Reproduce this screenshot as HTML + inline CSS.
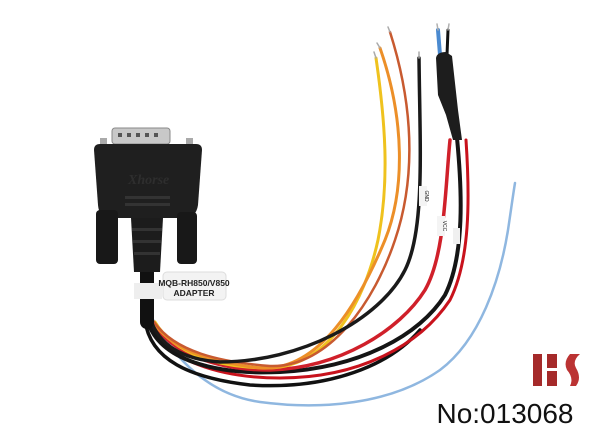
<!DOCTYPE html>
<html><head><style>
html,body{margin:0;padding:0;background:#fff;}
</style></head><body>
<svg width="600" height="440" viewBox="0 0 600 440" xmlns="http://www.w3.org/2000/svg">
<rect width="600" height="440" fill="#fff"/>
<g fill="none" stroke-linecap="round">
<path d="M152 318 C175 360 210 395 260 402 C320 410 390 405 440 370 C480 340 500 280 508 230 C511 210 513 195 515 183" stroke="#8fb7e0" stroke-width="2.5"/>
<path d="M145 320 C150 360 190 378 250 385 C330 390 390 365 420 330" stroke="#111" stroke-width="3.5"/>
<path d="M150 325 C165 360 220 378 280 378 C360 378 420 345 450 300 C470 260 470 200 466 140" stroke="#c8121c" stroke-width="3"/>
<path d="M148 322 C160 360 215 375 280 372 C360 368 420 335 445 295 C465 255 462 190 457 138" stroke="#151515" stroke-width="4"/>
<path d="M152 320 C170 355 220 370 270 370 C340 368 400 330 425 290 C445 255 445 190 450 140" stroke="#d0202a" stroke-width="3.5"/>
<path d="M155 322 C175 355 220 368 270 368 C330 366 365 300 378 240 C390 180 385 120 376 58" stroke="#efc21e" stroke-width="3"/>
<path d="M152 320 C170 350 210 362 260 368 C320 372 360 300 385 240 C405 190 405 120 380 48" stroke="#ec8f28" stroke-width="3"/>
<path d="M154 322 C175 352 220 362 270 366 C330 368 375 300 395 240 C412 190 418 120 390 32" stroke="#c85a30" stroke-width="2.5"/>
<path d="M150 318 C160 350 190 360 220 362 C300 362 380 320 405 270 C425 230 420 150 419 58" stroke="#1a1a1a" stroke-width="3.5"/>
<path d="M440 55 L438 30" stroke="#4a8ad0" stroke-width="4"/>
<path d="M447 55 L448 30" stroke="#111" stroke-width="3"/>
<path d="M438 30 L437 24" stroke="#b0b0b0" stroke-width="1.5"/>
<path d="M448 30 L449 24" stroke="#b0b0b0" stroke-width="1.5"/>
<path d="M376 58 L374 52" stroke="#aaa" stroke-width="1.5"/>
<path d="M380 48 L377 43" stroke="#aaa" stroke-width="1.5"/>
<path d="M390 32 L388 27" stroke="#aaa" stroke-width="1.5"/>
<path d="M419 58 L419 52" stroke="#aaa" stroke-width="1.5"/>
<path d="M147 268 L147 322" stroke="#111" stroke-width="14"/>
</g>
<path d="M436 58 Q437 52 446 52 L452 56 L458 110 L462 140 L453 140 L446 115 L438 95 Z" fill="#1d1d1d"/>
<rect x="419" y="186" width="8" height="20" fill="#f4f4f4"/>
<text transform="translate(425,196) rotate(90)" text-anchor="middle" font-family="Liberation Sans, sans-serif" font-size="5" fill="#222">GND</text>
<rect x="437" y="216" width="8" height="20" fill="#f4f4f4"/>
<text transform="translate(443,226) rotate(90)" text-anchor="middle" font-family="Liberation Sans, sans-serif" font-size="5" fill="#222">VCC</text>
<rect x="453" y="228" width="7" height="16" fill="#f0f0f0"/>
<rect x="112" y="128" width="58" height="16" rx="3" fill="#c8c8c8" stroke="#888"/>
<g fill="#555"><rect x="118" y="133" width="4" height="4"/><rect x="127" y="133" width="4" height="4"/><rect x="136" y="133" width="4" height="4"/><rect x="145" y="133" width="4" height="4"/><rect x="154" y="133" width="4" height="4"/></g>
<rect x="100" y="138" width="7" height="9" fill="#aaa"/><rect x="186" y="138" width="7" height="9" fill="#aaa"/>
<path d="M94 150 Q94 144 100 144 L196 144 Q202 144 202 150 L198 205 Q196 218 185 218 L110 218 Q99 218 98 205 Z" fill="#1f1f1f"/>
<text x="128" y="184" font-family="Liberation Serif, serif" font-style="italic" font-weight="bold" font-size="14" fill="#2e2e2e">Xhorse</text>
<rect x="125" y="196" width="45" height="3" fill="#333"/><rect x="125" y="203" width="45" height="3" fill="#333"/>
<rect x="96" y="210" width="22" height="54" rx="4" fill="#181818"/>
<rect x="177" y="212" width="20" height="52" rx="4" fill="#181818"/>
<path d="M131 218 L163 218 L160 272 L134 272 Z" fill="#1c1c1c"/>
<g fill="#333"><rect x="132" y="228" width="30" height="3"/><rect x="133" y="240" width="28" height="3"/><rect x="134" y="252" width="26" height="3"/></g>
<rect x="134" y="283" width="28" height="16" fill="#eee"/>
<rect x="163" y="272" width="63" height="28" rx="4" fill="#f3f3f3" stroke="#ddd"/>
<text x="194" y="286" text-anchor="middle" font-family="Liberation Sans, sans-serif" font-size="8.5" font-weight="bold" fill="#222">MQB-RH850/V850</text>
<text x="194" y="296" text-anchor="middle" font-family="Liberation Sans, sans-serif" font-size="8.5" font-weight="bold" fill="#222">ADAPTER</text>
<rect x="533" y="354" width="9" height="32" fill="#a52a2a"/>
<rect x="547" y="354" width="10" height="14" fill="#a52a2a"/>
<rect x="547" y="371" width="10" height="15" fill="#a52a2a"/>
<path d="M570 354 Q563 362 567 370 Q574 378 570 386 L576 386 Q582 378 576 368 Q572 361 580 354 Z" fill="#b33"/>
<text x="505" y="423" text-anchor="middle" font-family="Liberation Sans, sans-serif" font-size="28" fill="#111">No:013068</text>
</svg>
</body></html>
